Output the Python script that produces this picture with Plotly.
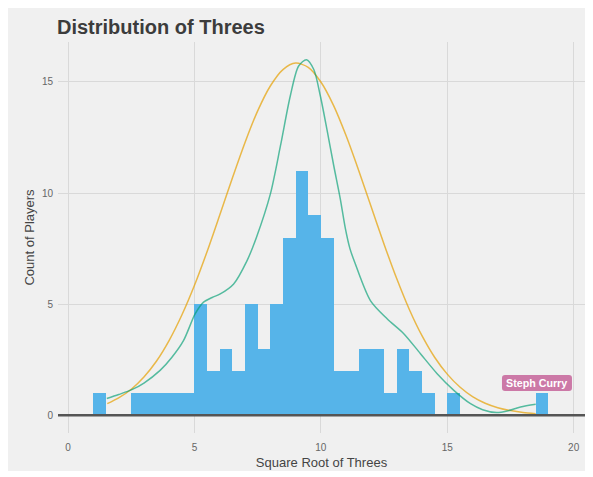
import plotly.graph_objects as go

# Histogram bins (left edges, width 0.5) and counts
bin_starts = [1.0, 1.5, 2.0, 2.5, 3.0, 3.5, 4.0, 4.5, 5.0, 5.5, 6.0, 6.5, 7.0, 7.5,
              8.0, 8.5, 9.0, 9.5, 10.0, 10.5, 11.0, 11.5, 12.0, 12.5, 13.0, 13.5,
              14.0, 14.5, 15.0, 15.5, 16.0, 16.5, 17.0, 17.5, 18.0, 18.5]
counts = [1, 0, 0, 1, 1, 1, 1, 1, 5, 2, 3, 2, 5, 3,
          5, 8, 11, 9, 8, 2, 2, 3, 3, 1, 3, 2,
          1, 0, 1, 0, 0, 0, 0, 0, 0, 1]
bin_width = 0.5

# Orange curve (normal fit)
normal_x = [1.55, 2.0, 2.5, 3.0, 3.5, 4.0, 4.5, 5.0, 5.5, 6.0, 6.5, 7.0, 7.5, 8.0, 8.5,
            9.0, 9.5, 10.0, 10.5, 11.0, 11.5, 12.0, 12.5, 13.0, 13.5, 14.0, 14.5,
            15.0, 15.5, 16.0, 16.5, 17.0, 17.5, 18.0, 18.5]
normal_y = [0.52, 0.78, 1.17, 1.72, 2.44, 3.37, 4.51, 5.85, 7.37, 9.01, 10.68, 12.28,
            13.70, 14.82, 15.56, 15.85, 15.66, 15.00, 13.95, 12.58, 11.01, 9.35, 7.70,
            6.15, 4.76, 3.58, 2.61, 1.85, 1.27, 0.84, 0.54, 0.34, 0.21, 0.12, 0.07]

# Green curve (density)
dens_x = [1.53, 2.0, 2.52, 3.0, 3.64, 4.1, 4.57, 5.03, 5.36, 5.7, 6.02, 6.55, 7.08,
          7.45, 8.0, 8.4, 8.79, 9.12, 9.43, 9.72, 9.98, 10.24, 10.51, 10.77, 10.97,
          11.15, 11.35, 11.96, 12.62, 13.28, 13.94, 14.6, 15.26, 15.92, 16.4, 16.95,
          17.37, 17.9, 18.5]
dens_y = [0.75, 0.93, 1.15, 1.45, 2.02, 2.6, 3.37, 4.57, 5.09, 5.3, 5.46, 5.91, 6.96,
          8.0, 9.95, 12.12, 14.37, 15.72, 16.0, 15.56, 14.37, 12.87, 11.23, 9.73, 8.4,
          7.5, 6.85, 5.16, 4.34, 3.67, 2.77, 1.87, 1.12, 0.52, 0.25, 0.12,
          0.19, 0.37, 0.49]

x_ticks = [0, 5, 10, 15, 20]
y_ticks = [0, 5, 10, 15]

label_text = "Steph Curry"
label_x = 18.55
label_y = 1.45

BG = "#F0F0F0"
FONT = "Liberation Sans, Arial, sans-serif"

W, H = 578, 463

bin_centers = [s + bin_width / 2 for s in bin_starts]

fig = go.Figure()
fig.add_trace(go.Bar(x=bin_centers, y=counts, width=bin_width,
                     marker=dict(color="#56B4E9", line=dict(width=0)),
                     showlegend=False, hoverinfo="skip"))
fig.add_trace(go.Scatter(x=normal_x, y=normal_y, mode="lines",
                         line=dict(color="rgba(230,159,0,0.7)", width=1.5,
                                   shape="spline", smoothing=0.8),
                         showlegend=False, hoverinfo="skip"))
fig.add_trace(go.Scatter(x=dens_x, y=dens_y, mode="lines",
                         line=dict(color="rgba(0,158,115,0.65)", width=1.5,
                                   shape="spline", smoothing=0.8),
                         showlegend=False, hoverinfo="skip"))

# rounded label box (pixel-sized, anchored at the label position)
hw, hh, r = 35, 8, 3
box_path = (f"M {-hw + r},{-hh} L {hw - r},{-hh} Q {hw},{-hh} {hw},{-hh + r} "
            f"L {hw},{hh - r} Q {hw},{hh} {hw - r},{hh} L {-hw + r},{hh} "
            f"Q {-hw},{hh} {-hw},{hh - r} L {-hw},{-hh + r} Q {-hw},{-hh} {-hw + r},{-hh} Z")

fig.update_layout(
    width=W, height=H,
    margin=dict(l=50, r=1, t=34, b=38),
    paper_bgcolor=BG,
    plot_bgcolor=BG,
    bargap=0,
    font=dict(family=FONT, color="#555555"),
    title=dict(text="<b>Distribution of Threes</b>", x=49 / W, xanchor="left",
               y=1 - 19 / H, yanchor="middle",
               font=dict(size=20, color="#3C3C3C", family=FONT)),
    shapes=[
        dict(type="line", xref="paper", yref="y", x0=0, x1=1, y0=0, y1=0,
             line=dict(color="#555555", width=2.5), layer="above"),
        dict(type="path", xref="x", yref="y", xsizemode="pixel", ysizemode="pixel",
             xanchor=label_x, yanchor=label_y, path=box_path,
             fillcolor="#CC79A7", line=dict(width=0), layer="above"),
    ],
    annotations=[
        dict(x=label_x, y=label_y, xref="x", yref="y", text="<b>" + label_text + "</b>",
             showarrow=False, font=dict(color="white", size=10.7, family=FONT)),
    ],
)

fig.update_xaxes(range=[-0.40, 20.45], tickvals=x_ticks, ticks="", showline=False,
                 zeroline=False, showgrid=True, gridcolor="#D9D9D9", gridwidth=1,
                 automargin=False, ticklabelstandoff=7,
                 tickfont=dict(size=10, color="#666666"),
                 title=dict(text="Square Root of Threes", standoff=5,
                            font=dict(size=13, color="#444444")))
fig.update_yaxes(range=[-0.8, 16.8], tickvals=y_ticks, ticks="", showline=False,
                 zeroline=False, showgrid=True, gridcolor="#D9D9D9", gridwidth=1,
                 automargin=False, ticklabelstandoff=4,
                 tickfont=dict(size=10, color="#666666"),
                 title=dict(text="Count of Players", standoff=4,
                            font=dict(size=13, color="#444444")))

fig.write_html("out.html")
